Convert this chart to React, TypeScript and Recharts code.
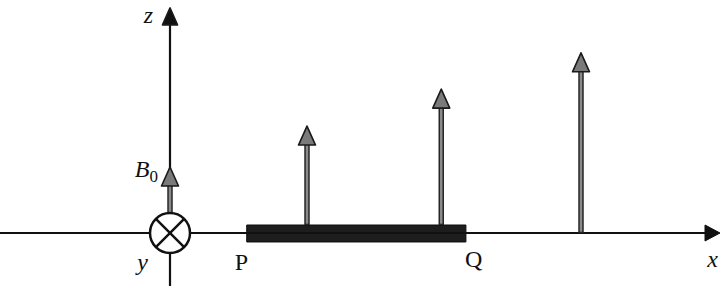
import React from "react";
import {
  ComposedChart,
  XAxis,
  YAxis,
  ReferenceLine,
  ReferenceDot,
  ReferenceArea,
} from "recharts";

// positions along x (origin at the y-axis circle) and field strength in units of B0
const fieldX = [0, 1.0, 1.98, 3.0];
const fieldB = [1, 1.62, 2.18, 2.73];
const fieldLabels = ["B", "", "", ""];

// the rod PQ lying on the x axis
const rodLabels = ["P", "Q"];
const rodEnds = [0.56, 2.16];
const rodHalf = [-0.136, 0.121];

// axes
const axisNames = ["x", "y", "z"];
const xRange = [-1.2409, 4.0146];
const zRange = [-0.803, 3.53];
const zTip = 3.41;

const W = 720;
const H = 286;
const serif = "'Liberation Serif', 'DejaVu Serif', serif";

const UpHead = (props: any) => {
  const { cx, cy, fill, w = 8.5, h = 19 } = props;
  return (
    <polygon
      points={`${cx},${cy} ${cx - w},${cy + h} ${cx + w},${cy + h}`}
      fill={fill}
      stroke="#1a1a1a"
      strokeWidth={1.6}
      strokeLinejoin="round"
    />
  );
};

const RightHead = (props: any) => {
  const { cx, cy } = props;
  return (
    <polygon
      points={`${cx},${cy} ${cx - 15},${cy - 8} ${cx - 15},${cy + 8}`}
      fill="#111"
      stroke="#111"
      strokeWidth={1}
    />
  );
};

const Label = (props: any) => {
  const { cx, cy, text, dx = 0, dy = 0, italic, anchor = "start", sub } = props;
  return (
    <text
      x={cx + dx}
      y={cy + dy}
      fontFamily={serif}
      fontSize={24}
      fontStyle={italic ? "italic" : "normal"}
      textAnchor={anchor}
      fill="#111"
    >
      {text}
      {sub ? (
        <tspan fontStyle="normal" fontSize={17} dy={5}>
          {sub}
        </tspan>
      ) : null}
    </text>
  );
};

const CrossCircle = (props: any) => {
  const { cx, cy } = props;
  const r = 20;
  const d = r * 0.707;
  return (
    <g>
      <circle cx={cx} cy={cy} r={r} fill="#fff" stroke="#111" strokeWidth={2.5} />
      <line x1={cx - d} y1={cy - d} x2={cx + d} y2={cy + d} stroke="#111" strokeWidth={2.5} />
      <line x1={cx - d} y1={cy + d} x2={cx + d} y2={cy - d} stroke="#111" strokeWidth={2.5} />
    </g>
  );
};

// shafts that stand on the rod start at its top face
const base = (x: number) => (x > rodEnds[0] && x < rodEnds[1] ? rodHalf[1] : 0);

export default function App() {
  return (
    <div style={{ position: "absolute", left: 0, top: 0, background: "#fff" }}>
      <ComposedChart
        width={W}
        height={H}
        data={[]}
        margin={{ top: 0, right: 0, bottom: 0, left: 0 }}
      >
        <XAxis type="number" dataKey="x" domain={xRange} hide allowDataOverflow />
        <YAxis type="number" domain={zRange} hide allowDataOverflow width={0} />

        {/* x axis */}
        <ReferenceLine
          segment={[{ x: xRange[0], y: 0 }, { x: xRange[1] - 0.05, y: 0 }]}
          stroke="#111"
          strokeWidth={2.2}
          ifOverflow="visible"
        />
        <ReferenceDot x={xRange[1]} y={0} ifOverflow="visible" shape={(p: any) => <RightHead {...p} />} />

        {/* z axis */}
        <ReferenceLine
          segment={[{ x: 0, y: zRange[0] }, { x: 0, y: zTip - 0.1 }]}
          stroke="#111"
          strokeWidth={2.2}
          ifOverflow="visible"
        />
        <ReferenceDot
          x={0}
          y={zTip}
          ifOverflow="visible"
          shape={(p: any) => <UpHead {...p} fill="#111" w={7.5} h={17} />}
        />

        {/* rod PQ */}
        <ReferenceArea
          x1={rodEnds[0]}
          x2={rodEnds[1]}
          y1={rodHalf[0]}
          y2={rodHalf[1]}
          fill="#1d1d1d"
          fillOpacity={1}
          stroke="#0d0d0d"
          strokeWidth={1}
          ifOverflow="visible"
        />

        {/* field arrows */}
        {fieldX.map((x, i) => (
          <ReferenceLine
            key={"so" + i}
            segment={[{ x, y: base(x) }, { x, y: fieldB[i] - 0.2 }]}
            stroke="#262626"
            strokeWidth={5.5}
            ifOverflow="visible"
          />
        ))}
        {fieldX.map((x, i) => (
          <ReferenceLine
            key={"si" + i}
            segment={[{ x, y: base(x) + 0.02 }, { x, y: fieldB[i] - 0.2 }]}
            stroke="#8a8a8a"
            strokeWidth={2.5}
            ifOverflow="visible"
          />
        ))}
        {fieldX.map((x, i) => (
          <ReferenceDot
            key={"h" + i}
            x={x}
            y={fieldB[i]}
            ifOverflow="visible"
            shape={(p: any) => <UpHead {...p} fill="#7a7a7a" />}
          />
        ))}

        {/* y axis into the page */}
        <ReferenceDot x={0} y={0} ifOverflow="visible" shape={(p: any) => <CrossCircle {...p} />} />

        {/* labels */}
        <ReferenceDot
          x={0}
          y={zTip}
          ifOverflow="visible"
          shape={(p: any) => <Label {...p} text={axisNames[2]} italic anchor="end" dx={-17} dy={15} />}
        />
        <ReferenceDot
          x={0}
          y={0}
          ifOverflow="visible"
          shape={(p: any) => <Label {...p} text={axisNames[1]} italic anchor="end" dx={-22} dy={37} />}
        />
        <ReferenceDot
          x={xRange[1]}
          y={0}
          ifOverflow="visible"
          shape={(p: any) => <Label {...p} text={axisNames[0]} italic anchor="end" dx={-2} dy={34} />}
        />
        <ReferenceDot
          x={fieldX[0]}
          y={fieldB[0]}
          ifOverflow="visible"
          shape={(p: any) => (
            <Label {...p} text={fieldLabels[0]} sub="0" italic anchor="end" dx={-12} dy={10} />
          )}
        />
        <ReferenceDot
          x={rodEnds[0]}
          y={0}
          ifOverflow="visible"
          shape={(p: any) => <Label {...p} text={rodLabels[0]} dx={-12} dy={37} />}
        />
        <ReferenceDot
          x={rodEnds[1]}
          y={0}
          ifOverflow="visible"
          shape={(p: any) => <Label {...p} text={rodLabels[1]} dx={-1} dy={34} />}
        />
      </ComposedChart>
    </div>
  );
}
